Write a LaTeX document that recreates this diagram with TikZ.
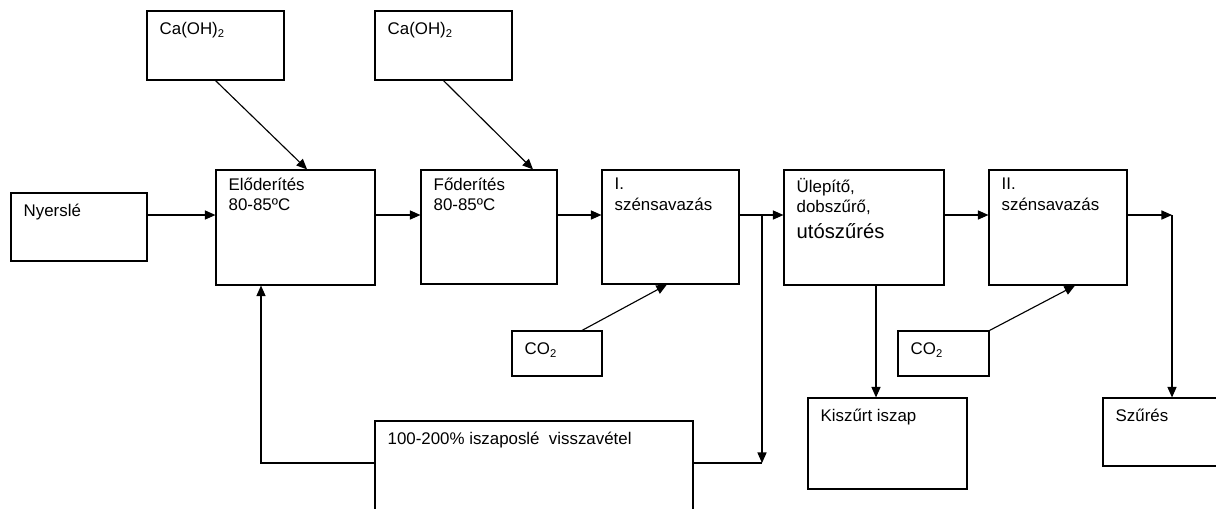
\documentclass[tikz,border=0pt]{standalone}
\usepackage{fontspec}
\setmainfont{Liberation Sans}
\usetikzlibrary{arrows.meta}

\begin{document}
\begin{tikzpicture}
[x=0.025cm, y=-0.025cm,
box/.style ={draw, rectangle, line width=0.8pt, inner sep=0pt},
txt/.style ={anchor=north west, inner sep=0pt, align=left,
xshift=0.325cm, yshift=-0.2125cm, font=\fontsize{12pt}{14.4pt}\selectfont,
execute at begin node=\rule{0pt}{11pt}},
line/.style ={draw, line width=0.8pt, -{Triangle[length=7.5pt,width=6.5pt]}},
link/.style ={draw, line width=0.8pt}]
\useasboundingbox (0,0) rectangle (1216,508);
\clip (0,0) rectangle (1216,508);
% feed boxes
\node [box, minimum width=3.425cm, minimum height=1.725cm, label={[txt]north west:{Ca(OH)\textsubscript{2}}}] (ca1) at (215.5, 45.5) {};
\node [box, minimum width=3.425cm, minimum height=1.725cm, label={[txt]north west:{Ca(OH)\textsubscript{2}}}] (ca2) at (443.5, 45.5) {};
\node [box, minimum width=3.4cm, minimum height=1.7cm, label={[txt]north west:{Nyerslé}}] (nyers) at (79, 227) {};
% main row
\node [box, minimum width=3.975cm, minimum height=2.875cm, label={[txt]north west:{Előderítés\\80-85ºC}}] (elo) at (295.5, 227.5) {};
\node [box, minimum width=3.4cm, minimum height=2.85cm, label={[txt]north west:{Főderítés\\80-85ºC}}] (fo) at (489, 227) {};
\node [box, minimum width=3.425cm, minimum height=2.85cm, label={[txt]north west:{I.\\szénsavazás}}] (szen1) at (670.5, 227) {};
\node [box, minimum width=4cm, minimum height=2.875cm, label={[txt]north west:{Ülepítő,\\dobszűrő,\\[4pt]{\fontsize{14.4pt}{17pt}\selectfont utószűrés}}}] (ulep) at (864, 227.5) {};
\node [box, minimum width=3.45cm, minimum height=2.875cm, label={[txt]north west:{II.\\szénsavazás}}] (szen2) at (1058, 227.5) {};
% CO2 boxes
\node [box, minimum width=2.25cm, minimum height=1.125cm, label={[txt]north west:{CO\textsubscript{2}}}] (co2a) at (557, 353.5) {};
\node [box, minimum width=2.275cm, minimum height=1.125cm, label={[txt]north west:{CO\textsubscript{2}}}] (co2b) at (943.5, 353.5) {};
% bottom row
\node [box, minimum width=7.95cm, minimum height=2.725cm, label={[txt]north west:{100-200\% iszaposlé\ \ visszavétel}}] (iszap) at (534, 475.5) {};
\node [box, minimum width=3.975cm, minimum height=2.275cm, label={[txt]north west:{Kiszűrt iszap}}] (kiszurt) at (887.5, 443.5) {};
\node [box, minimum width=3.175cm, minimum height=1.7cm, label={[txt]north west:{Szűrés}}] (szures) at (1166.5, 432) {};

\coordinate (row) at (0, 215);
\coordinate (j1) at (762, 215);
\coordinate (j2) at (762, 463);
\coordinate (j3) at (1172, 215);
\coordinate (ret) at (261, 463);

\draw [line] (nyers.east |- row) -- (elo.west |- row);
\draw [line] (elo.east |- row) -- (fo.west |- row);
\draw [line] (fo.east |- row) -- (szen1.west |- row);
\draw [line] (szen1.east |- row) -- (ulep.west |- row);
\draw [line] (ulep.east |- row) -- (szen2.west |- row);
\draw [line] (szen2.east |- row) -- (j3);
\draw [line] (j3) -- (j3 |- szures.north);

\draw [line] (ca1.south) -- ([xshift=0.29cm]elo.north);
\draw [line] (ca2.south) -- ([xshift=1.1cm]fo.north);
\draw [line] ([xshift=0.625cm]co2a.north) -- ([xshift=-0.09cm]szen1.south);
\draw [line] (co2b.north east) -- ([xshift=0.425cm]szen2.south);
\draw [line] ([xshift=0.3cm]ulep.south) -- ([xshift=0.3cm]ulep.south |- kiszurt.north);

\draw [line] (j1) -- (j2);
\draw [link] (iszap.east |- j2) -- (j2);
\draw [line] (iszap.west |- ret) -- (ret) -- (ret |- elo.south);

\end{tikzpicture}
\end{document}
